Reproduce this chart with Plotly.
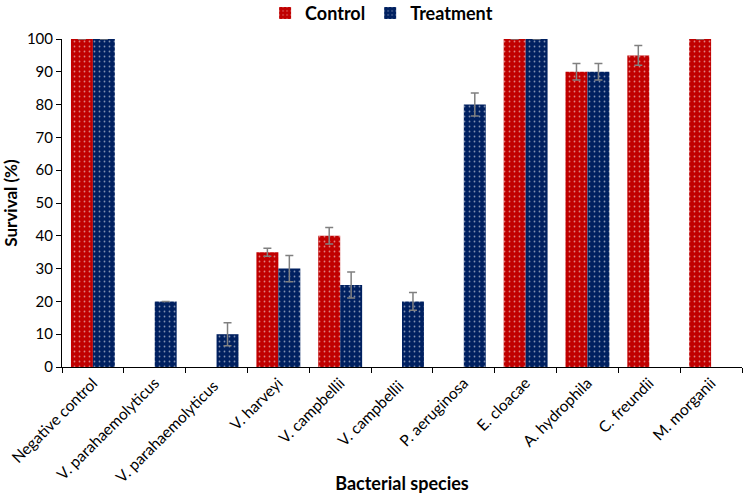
import plotly.graph_objects as go

species = ["Negative control", "V. parahaemolyticus", "V. parahaemolyticus ", "V. harveyi",
           "V. campbellii", "V. campbellii ", "P. aeruginosa", "E. cloacae",
           "A. hydrophila", "C. freundii", "M. morganii"]
control = [100, None, None, 35, 40, None, None, 100, 90, 95, 100]
control_err = [0, 0, 0, 1.2, 2.5, 0, 0, 0, 2.5, 3, 0]
treatment = [100, 20, 10, 30, 25, 20, 80, 100, 90, None, None]
treatment_err = [0, 0, 3.5, 4, 4, 2.7, 3.5, 0, 2.5, 0, 0]

font = "Lato, 'Open Sans', sans-serif"

fig = go.Figure()
fig.add_bar(x=species, y=control, name="<b>Control</b>",
            marker=dict(color="#C00000", line=dict(width=0),
                        pattern=dict(shape=".", fgcolor="white", bgcolor="#C00000",
                                     size=5, solidity=0.1)),
            error_y=dict(type="data", array=control_err, color="#808080", thickness=1.5, width=4))
fig.add_bar(x=species, y=treatment, name="<b>Treatment</b>",
            marker=dict(color="#002060", line=dict(width=0),
                        pattern=dict(shape=".", fgcolor="white", bgcolor="#002060",
                                     size=5, solidity=0.1)),
            error_y=dict(type="data", array=treatment_err, color="#808080", thickness=1.5, width=4))

fig.update_layout(
    width=744, height=494, barmode="group", bargap=0.29, bargroupgap=0,
    plot_bgcolor="white", paper_bgcolor="white",
    margin=dict(l=62, r=2, t=39, b=127, autoexpand=False),
    font=dict(family=font, size=15, color="black"),
    legend=dict(orientation="h", x=0.47, xanchor="center", y=1.135, yanchor="top",
                font=dict(size=18, color="black"), itemwidth=30,
                traceorder="normal"),
    showlegend=True,
)
fig.update_xaxes(title=dict(text="<b>Bacterial species</b>", font=dict(size=18), standoff=4),
                 tickangle=-45, showline=True, linecolor="black", linewidth=1,
                 ticks="outside", tickson="boundaries", ticklen=5, tickcolor="black",
                 showgrid=False, tickfont=dict(size=15.5))
fig.update_yaxes(title=dict(text="<b>Survival (%)</b>", font=dict(size=17), standoff=4),
                 range=[0, 100], dtick=10, showline=True, linecolor="black", linewidth=1,
                 ticks="outside", ticklen=5, tickcolor="black", showgrid=False,
                 zeroline=False, tickfont=dict(size=15))

# drop the default 8px page margin so the figure sits at the window's corner
fig.write_html("out.html", config={"displayModeBar": False},
               post_script="document.body.style.margin='0px';")
